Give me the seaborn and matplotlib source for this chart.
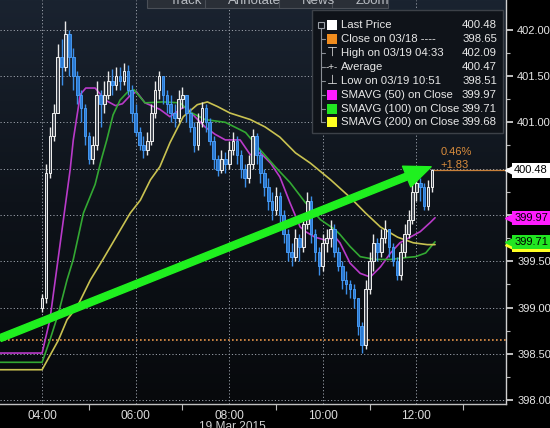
import numpy as np
import pandas as pd
import matplotlib
matplotlib.use("Agg")
import matplotlib.pyplot as plt
import matplotlib.transforms as mtransforms
from matplotlib.patches import Rectangle
from matplotlib.colors import LinearSegmentedColormap
import seaborn as sns

# 5-minute bars, minutes after 04:00 (19 Mar 2015)
bar_min = list(range(0, 505, 5))
first_open = 399.00
closes = [399.10, 400.45, 400.85, 401.10, 401.70, 401.60, 401.95, 401.70, 401.50, 401.30,
          401.15, 400.85, 400.60, 400.75, 401.30, 401.20, 401.30, 401.45, 401.40, 401.50,
          401.45, 401.55, 401.35, 401.10, 400.90, 400.75, 400.70, 400.80, 401.10, 401.35,
          401.50, 401.30, 401.20, 401.10, 401.05, 401.25, 401.30, 401.10, 400.95, 400.75,
          401.00, 401.15, 401.00, 400.80, 400.60, 400.48, 400.60, 400.55, 400.70, 400.80,
          400.65, 400.50, 400.40, 400.55, 400.85, 400.65, 400.45, 400.30, 400.15, 400.05,
          400.20, 400.00, 399.80, 399.60, 399.55, 399.75, 399.65, 399.90, 400.15, 399.80,
          399.60, 399.45, 399.70, 399.75, 399.85, 399.60, 399.45, 399.30, 399.25, 399.20,
          399.10, 398.80, 398.60, 399.20, 399.50, 399.70, 399.60, 399.75, 399.85, 399.65,
          399.50, 399.35, 399.60, 399.80, 399.95, 400.25, 400.35, 400.30, 400.10, 400.30,
          400.48]
highs = [399.15, 400.55, 400.95, 401.20, 401.85, 401.90, 402.09, 402.00, 401.80, 401.55,
         401.35, 401.20, 400.90, 400.85, 401.45, 401.35, 401.45, 401.55, 401.58, 401.60,
         401.60, 401.64, 401.62, 401.40, 401.20, 400.95, 400.85, 400.90, 401.20, 401.45,
         401.55, 401.50, 401.35, 401.30, 401.20, 401.35, 401.38, 401.30, 401.15, 401.00,
         401.10, 401.22, 401.20, 401.05, 400.85, 400.65, 400.70, 400.68, 400.80, 400.90,
         400.85, 400.70, 400.55, 400.65, 400.93, 400.88, 400.70, 400.50, 400.40, 400.25,
         400.30, 400.25, 400.05, 399.85, 399.70, 399.85, 399.80, 400.00, 400.25, 400.20,
         399.85, 399.65, 399.80, 399.85, 399.95, 399.90, 399.65, 399.50, 399.40, 399.30,
         399.25, 399.10, 398.85, 399.30, 399.60, 399.80, 399.75, 399.85, 399.95, 399.85,
         399.70, 399.55, 399.70, 399.90, 400.05, 400.35, 400.42, 400.40, 400.35, 400.38,
         400.50]
lows = [398.95, 399.05, 400.40, 400.80, 401.10, 401.40, 401.55, 401.50, 401.35, 401.20,
        401.00, 400.75, 400.55, 400.55, 400.70, 400.95, 401.10, 401.25, 401.30, 401.35,
        401.35, 401.40, 401.30, 401.00, 400.85, 400.70, 400.62, 400.65, 400.75, 401.05,
        401.25, 401.20, 401.10, 401.00, 400.95, 401.00, 401.15, 401.00, 400.90, 400.68,
        400.70, 400.95, 400.90, 400.75, 400.50, 400.42, 400.45, 400.45, 400.50, 400.65,
        400.55, 400.40, 400.30, 400.35, 400.50, 400.55, 400.35, 400.20, 400.05, 399.95,
        400.00, 399.90, 399.70, 399.50, 399.45, 399.50, 399.50, 399.60, 399.85, 399.70,
        399.50, 399.35, 399.40, 399.60, 399.65, 399.55, 399.40, 399.20, 399.15, 399.10,
        399.00, 398.70, 398.51, 398.55, 399.15, 399.40, 399.50, 399.55, 399.70, 399.55,
        399.45, 399.30, 399.30, 399.55, 399.75, 399.90, 400.15, 400.15, 400.05, 400.05,
        400.25]

# moving averages (minute, value)
sma50_min = [-60, 0, 10, 36, 40, 49, 56, 68, 81, 94, 103, 113, 121, 132, 151, 164, 177, 184,
             196, 209, 222, 235, 254, 267, 280, 293, 305, 318, 331, 338, 350, 363, 376, 382,
             395, 408, 421, 434, 447, 459, 472, 485, 498, 504]
sma50_val = [398.51, 398.51, 398.87, 400.49, 400.81, 401.30, 401.37, 401.37, 401.24, 401.18,
             401.20, 401.29, 401.33, 401.21, 401.14, 401.06, 401.14, 401.17, 401.06, 400.95,
             400.87, 400.81, 400.81, 400.65, 400.67, 400.56, 400.41, 400.13, 399.87, 399.82,
             399.76, 399.73, 399.76, 399.70, 399.48, 399.37, 399.33, 399.44, 399.59, 399.70,
             399.76, 399.82, 399.92, 399.97]
sma100_min = [-60, 0, 10, 21, 32, 40, 53, 68, 76, 83, 91, 100, 110, 118, 132, 155, 177, 190,
              209, 235, 254, 261, 280, 299, 318, 338, 357, 376, 382, 395, 408, 427, 447, 466,
              479, 492, 504]
sma100_val = [398.41, 398.41, 398.65, 398.94, 399.30, 399.52, 400.02, 400.33, 400.60, 400.81,
              401.08, 401.24, 401.33, 401.35, 401.21, 401.22, 401.21, 401.11, 401.03, 401.00,
              400.92, 400.89, 400.70, 400.52, 400.35, 400.13, 399.95, 399.84, 399.79, 399.66,
              399.55, 399.52, 399.52, 399.54, 399.55, 399.59, 399.71]
sma200_min = [-60, 0, 21, 32, 45, 62, 78, 113, 126, 139, 151, 164, 181, 199, 212, 225, 241, 267,
              286, 305, 325, 344, 370, 395, 415, 434, 456, 476, 494, 504]
sma200_val = [398.33, 398.33, 398.65, 398.87, 399.01, 399.30, 399.52, 400.02, 400.16, 400.38,
              400.52, 400.78, 401.06, 401.19, 401.22, 401.17, 401.10, 401.03, 400.95, 400.84,
              400.67, 400.56, 400.38, 400.19, 400.02, 399.87, 399.76, 399.70, 399.68, 399.68]

prev_close = 398.65
last_price = 400.48
sma_last = {"50": 399.97, "100": 399.71, "200": 399.68}
trend_from = (-54, 398.67)
trend_to = (499, 400.52)

x_ticks = [0, 120, 240, 360, 480]
x_labels = ["04:00", "06:00", "08:00", "10:00", "12:00"]
x_minor = [60, 180, 300, 420, 540]
y_ticks = [398.0, 398.5, 399.0, 399.5, 400.0, 400.5, 401.0, 401.5, 402.0]
# 400.00 and 400.50 sit under the value tags
y_labels = ["398.00", "398.50", "399.00", "399.50", "", "", "401.00", "401.50", "402.00"]

legend_rows = [("Last Price", "400.48"), ("Close on 03/18 ----", "398.65"),
               ("High on 03/19 04:33", "402.09"), ("Average", "400.47"),
               ("Low on 03/19 10:51", "398.51"), ("SMAVG (50) on Close", "399.97"),
               ("SMAVG (100) on Close", "399.71"), ("SMAVG (200) on Close", "399.68")]
legend_marks = ["#ffffff", "#f08c1e", "⊤", "-+-", "⊥", "#ff1cff", "#22e622", "#ffff22"]

c_mag, c_grn, c_yel = "#b93ac9", "#33a833", "#c9c251"

sns.set_theme(style="dark")
plt.rcParams["font.family"] = ["Liberation Sans", "DejaVu Sans"]

W, H = 550, 428
fig = plt.figure(figsize=(W / 100, H / 100), dpi=100)
fig.patch.set_facecolor("black")
ax = fig.add_axes([0, 24 / H, 506 / W, 404 / H])

# background gradient
cmap = LinearSegmentedColormap.from_list("bg", ["#07090c", "#0e131a", "#1a2330"])
ax.imshow(np.linspace(0, 1, 256)[:, None], cmap=cmap, origin="lower", aspect="auto",
          extent=[0, 1, 0, 1], transform=ax.transAxes, zorder=0)

# grid
for t in x_ticks:
    ax.axvline(t, color="#9aa0aa", lw=0.7, ls=(0, (1.2, 2.2)), zorder=1)
for v in y_ticks:
    ax.axhline(v, color="#9aa0aa", lw=0.7, ls=(0, (1.2, 2.2)), zorder=1)

# previous close line
ax.axhline(prev_close, color="#e8954a", lw=1.2, ls=(0, (1, 1.4)), zorder=2)

# moving averages
ma = pd.concat([
    pd.DataFrame({"minute": sma50_min, "value": sma50_val, "series": "SMA50"}),
    pd.DataFrame({"minute": sma100_min, "value": sma100_val, "series": "SMA100"}),
    pd.DataFrame({"minute": sma200_min, "value": sma200_val, "series": "SMA200"}),
])
sns.lineplot(data=ma, x="minute", y="value", hue="series", ax=ax, legend=False,
             palette={"SMA50": c_mag, "SMA100": c_grn, "SMA200": c_yel},
             linewidth=1.2, zorder=2)

# candles
opens = [first_open] + closes[:-1]
cd = pd.DataFrame({"t": bar_min, "o": opens, "h": highs, "l": lows, "c": closes})
up = cd[cd.c >= cd.o]
dn = cd[cd.c < cd.o]
ax.vlines(dn.t, dn.l, dn.h, color="#3b8ee8", lw=1.0, zorder=3)
ax.bar(dn.t, (dn.o - dn.c).clip(lower=0.02), bottom=dn.c, width=3.4,
       color="#2a78d0", edgecolor="#4da3ff", lw=0.6, zorder=4)
ax.vlines(up.t, up.l, up.h, color="#e8e8e8", lw=1.0, zorder=3)
ax.bar(up.t, (up.c - up.o).clip(lower=0.02), bottom=up.o, width=3.4,
       color="#4a4f58", edgecolor="#f2f2f2", lw=0.7, zorder=4)

# last price line + change text
ax.hlines(last_price, bar_min[-1], 700, color="#c8803a", lw=0.9, zorder=2)
ax.annotate("0.46%", (bar_min[-1], last_price), xytext=(6, 13.5), textcoords="offset points",
            color="#d98c3c", fontsize=8, va="center", zorder=6)
ax.annotate("+1.83", (bar_min[-1], last_price), xytext=(6, 4), textcoords="offset points",
            color="#d98c3c", fontsize=8, va="center", zorder=6)

# hand-drawn trend arrow
ax.annotate("", xy=trend_to, xytext=trend_from,
            arrowprops=dict(arrowstyle="simple,head_length=1.9,head_width=1.6,tail_width=0.5",
                            color="#1ff01f", shrinkA=0, shrinkB=0, mutation_scale=10),
            zorder=7)

ax.set_xlim(-54, 595)
ax.set_ylim(397.96, 402.32)

# axes styling
ax.yaxis.tick_right()
ax.set_yticks(y_ticks)
ax.set_yticklabels(y_labels)
ax.set_yticks([v + 0.25 for v in y_ticks[:-1]], minor=True)
ax.set_xticks(x_ticks)
ax.set_xticklabels(x_labels)
ax.set_xticks(x_minor, minor=True)
ax.tick_params(axis="y", which="major", length=5, width=1.2, color="#e0e0e0",
               labelcolor="#e6e6e6", labelsize=8.0, pad=3, right=True)
ax.tick_params(axis="y", which="minor", length=3, width=0.8, color="#bbbbbb", right=True)
ax.tick_params(axis="x", which="major", length=0, labelcolor="#dcdcdc", labelsize=8.6, pad=4)
ax.tick_params(axis="x", which="minor", length=4, width=0.8, color="#bbbbbb", bottom=True)
ax.set_xlabel("")
ax.set_ylabel("")
ax.grid(False)
for s in ["left", "top"]:
    ax.spines[s].set_visible(False)
ax.spines["right"].set_color("#d0d0d0")
ax.spines["bottom"].set_color("#c0c0c0")
ax.spines["right"].set_linewidth(1)
ax.spines["bottom"].set_linewidth(1)

# right-edge value tags (yellow one sits under the green one)
tr = mtransforms.blended_transform_factory(ax.transAxes, ax.transData)
ax.plot([1.006], [sma_last["200"]], marker="<", ms=6, color="#ffff22", transform=tr,
        clip_on=False, zorder=8)
ax.add_patch(Rectangle((1.012, sma_last["200"] - 0.08), 0.2, 0.16, transform=tr,
                       facecolor="#ffff22", edgecolor="none", clip_on=False, zorder=8))
tags = [(sma_last["100"], "#22e622"), (sma_last["50"], "#ff1cff"), (last_price, "#ffffff")]
for val, col in tags:
    ax.plot([1.006], [val], marker="<", ms=6, color=col, transform=tr, clip_on=False, zorder=9)
    ax.text(1.016, val, f"{val:.2f}", transform=tr, ha="left", va="center",
            fontsize=8.0, color="black", clip_on=False, zorder=9,
            bbox=dict(boxstyle="square,pad=0.2", fc=col, ec="none"))

fig.text(232 / W, 1 - 421 / H, "19 Mar 2015", ha="center", va="top", color="#d0d0d0",
         fontsize=8.6)


def fx(x):
    return x / W


def fy(y):
    return 1 - y / H


# legend box
fig.add_artist(Rectangle((fx(312), fy(133)), 191 / W, 123 / H, transform=fig.transFigure,
                         facecolor="#0f1319", edgecolor="#3c4148", lw=1, zorder=10))
row_y = [25, 39, 53, 67, 81, 95, 109, 122]
fig.add_artist(plt.Line2D([fx(321), fx(321)], [fy(28), fy(122)], transform=fig.transFigure,
                          color="#8a8f96", lw=0.8, zorder=11))
fig.add_artist(Rectangle((fx(318), fy(28)), 6 / W, 6 / H, transform=fig.transFigure,
                         facecolor="#0f1319", edgecolor="#9a9fa6", lw=0.8, zorder=12))
for (label, value), mark, y in zip(legend_rows, legend_marks, row_y):
    if y > 30:
        fig.add_artist(plt.Line2D([fx(321), fx(325)], [fy(y), fy(y)], transform=fig.transFigure,
                                  color="#8a8f96", lw=0.8, zorder=11))
    if mark.startswith("#"):
        fig.add_artist(Rectangle((fx(327), fy(y + 5)), 10 / W, 10 / H, transform=fig.transFigure,
                                 facecolor=mark, edgecolor="none", zorder=12))
    else:
        fig.text(fx(332), fy(y), mark, ha="center", va="center", color="#d8d8d8",
                 fontsize=7 if mark == "-+-" else 9, zorder=12)
    fig.text(fx(341), fy(y), label, ha="left", va="center", color="#e8e8e8",
             fontsize=8.2, zorder=12)
    fig.text(fx(497), fy(y), value, ha="right", va="center", color="#e8e8e8",
             fontsize=8.2, zorder=12)

# toolbar (cut off at top)
fig.add_artist(Rectangle((fx(147), fy(8)), 241 / W, 14 / H, transform=fig.transFigure,
                         facecolor="#2a2f37", edgecolor="#4a4f57", lw=0.8, zorder=10))
for xd in [205, 279, 332]:
    fig.add_artist(plt.Line2D([fx(xd), fx(xd)], [fy(8), 1], transform=fig.transFigure,
                              color="#4a4f57", lw=0.8, zorder=11))
for xt, t in [(170, "Track"), (228, "Annotate"), (302, "News"), (356, "Zoom")]:
    fig.text(fx(xt), fy(4.5), t, ha="left", va="baseline", color="#b8bcc2", fontsize=9.5,
             zorder=12)

fig.savefig("out.png", dpi=100, facecolor=fig.get_facecolor())
